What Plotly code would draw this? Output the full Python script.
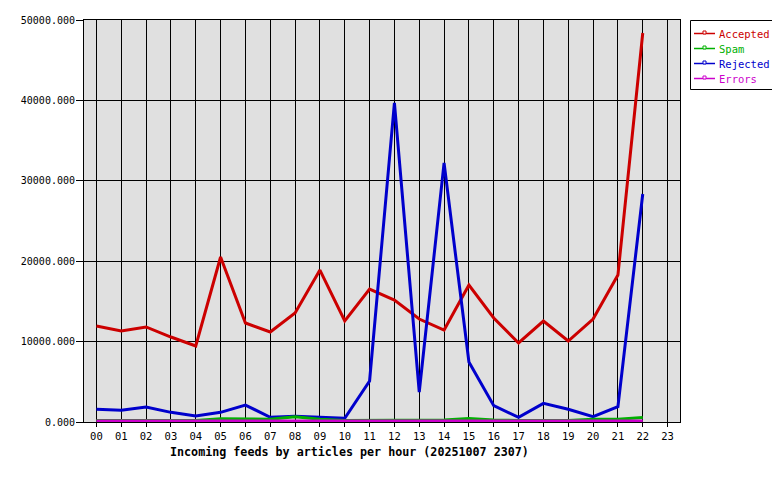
import plotly.graph_objects as go

hours = ["00","01","02","03","04","05","06","07","08","09","10","11",
         "12","13","14","15","16","17","18","19","20","21","22","23"]
data_hours = hours[:23]

accepted = [11940, 11320, 11820, 10570, 9450, 20520, 12310, 11200, 13560, 18900,
            12560, 16540, 15170, 12810, 11440, 17040, 12940, 9830, 12560, 10070,
            12810, 18280, 48380]
spam = [200, 200, 200, 200, 200, 400, 400, 350, 650, 350, 200, 200,
        200, 200, 250, 450, 250, 200, 200, 200, 350, 350, 550]
rejected = [1580, 1450, 1870, 1200, 750, 1200, 2110, 580, 700, 580, 460, 5100,
            39680, 3730, 32220, 7460, 2030, 580, 2320, 1580, 660, 1900, 28360]
errors = [120] * 23

y_ticks = [0, 10000, 20000, 30000, 40000, 50000]
y_labels = ["%.3f" % v for v in y_ticks]

names = ["Accepted", "Spam", "Rejected", "Errors"]
colors = ["#cc0000", "#00b000", "#0000cc", "#cc00cc"]
values = [accepted, spam, rejected, errors]
x_title = "Incoming feeds by articles per hour (20251007 2307)"

FONT = "DejaVu Sans Mono"
fig = go.Figure()
for idx in [0, 2, 1, 3]:
    fig.add_trace(go.Scatter(x=data_hours, y=values[idx], mode="lines", name=names[idx],
                             line=dict(color=colors[idx], width=3), showlegend=False,
                             hoverinfo="skip"))

# page body has an 8px default margin: work in screen coords, shift by 8
OFF = 8
W, H = 780 - OFF, 480 - OFF
L, T = 84 - OFF, 20 - OFF
R = W - (680 - OFF)
B = H - (422 - OFF)
pw, ph = W - L - R, H - T - B
def px(x):
    return (x - OFF - L) / pw
def py(y):
    return 1 - (y - OFF - T) / ph

shapes = [dict(type="rect", xref="paper", yref="paper",
               x0=px(690.5), x1=px(774.5), y0=py(89.5), y1=py(20.5),
               line=dict(color="black", width=1), fillcolor="white")]
annotations = [dict(xref="paper", yref="paper", x=px(349), y=py(452),
                    xanchor="center", yanchor="middle", showarrow=False,
                    text="<b>" + x_title + "</b>",
                    font=dict(family=FONT, size=11.7, color="black"))]
for i, (n, c) in enumerate(zip(names, colors)):
    yc = 33.5 + 15 * i
    shapes.append(dict(type="line", xref="paper", yref="paper",
                       x0=px(694), x1=px(715), y0=py(yc), y1=py(yc),
                       line=dict(color=c, width=1.5)))
    shapes.append(dict(type="rect", xref="paper", yref="paper",
                       x0=px(703), x1=px(706), y0=py(yc + 0.5), y1=py(yc - 2.5),
                       line=dict(color=c, width=1), fillcolor="white"))
    annotations.append(dict(xref="paper", yref="paper", x=px(717), y=py(yc),
                            xanchor="left", yanchor="middle", showarrow=False,
                            text=n, font=dict(family=FONT, size=10.5, color=c)))

fig.update_layout(
    width=W, height=H,
    margin=dict(l=L, r=R, t=T, b=B),
    plot_bgcolor="#e0e0e0", paper_bgcolor="white",
    font=dict(family=FONT, size=10, color="black"),
    showlegend=False,
    shapes=shapes, annotations=annotations,
    xaxis=dict(type="category", categoryorder="array", categoryarray=hours,
               range=[-0.5, 23.5], showgrid=True, gridcolor="black", gridwidth=1,
               showline=True, linecolor="black", linewidth=1, mirror=True,
               ticks="outside", ticklen=4, tickcolor="black", automargin=False,
               tickfont=dict(family=FONT, size=10.5)),
    yaxis=dict(range=[0, 50000], tickvals=y_ticks, ticktext=y_labels,
               showgrid=True, gridcolor="black", gridwidth=1, zeroline=False,
               showline=True, linecolor="black", linewidth=1, mirror=True,
               ticks="outside", ticklen=7, tickcolor="black", automargin=False,
               ticklabelstandoff=-1,
               tickfont=dict(family=FONT, size=10)),
)

fig.write_html("out.html")
